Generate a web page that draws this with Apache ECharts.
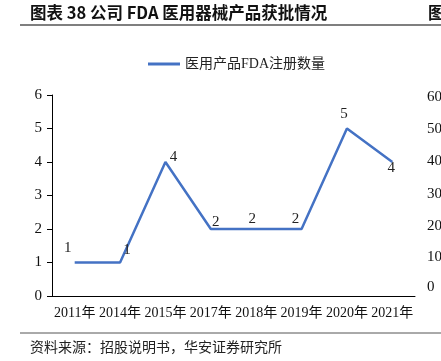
<!DOCTYPE html>
<html><head><meta charset="utf-8">
<script src="https://cdn.jsdelivr.net/npm/echarts@6/dist/echarts.min.js"></script>
<style>html,body{margin:0;padding:0;background:#fff}#c{width:441px;height:361px}</style>
</head><body><div id="c"></div>
<script>
const categories = ['2011年','2014年','2015年','2017年','2018年','2019年','2020年','2021年'];
const values = [1,1,4,2,2,2,5,4];
const yTicks = [0,1,2,3,4,5,6];
const seriesName = '医用产品FDA注册数量';
const titleText = '图表 38 公司 FDA 医用器械产品获批情况';
const sourceText = '资料来源：招股说明书，华安证券研究所';
const neighbourTicks = ['60','50','40','30','20','10','0'];

const serif = "'Liberation Serif','Noto Sans CJK SC',serif";
const labelOffsets = [[-7,-14],[7,-12],[8,-5],[5,-7],[-4,-10],[-6,-10],[-3,-14],[-1,6]];
const dataItems = values.map((v,i)=>({value:v,label:{position:'inside',offset:labelOffsets[i]}}));
const neighbourY = [98,130,162,195,227,258,288];

const chart = echarts.init(document.getElementById('c'),null,{renderer:'canvas'});
chart.setOption({
  animation:false,
  backgroundColor:'#fff',
  textStyle:{fontFamily:serif},
  legend:{top:52,left:143,itemWidth:32,itemHeight:3,icon:'rect',itemGap:5,
    itemStyle:{color:'#4472C4',opacity:1},
    textStyle:{fontSize:14,color:'#222',fontFamily:serif},data:[seriesName]},
  grid:{left:52,right:26,top:95,bottom:65},
  xAxis:{type:'category',data:categories,boundaryGap:true,
    axisLine:{lineStyle:{color:'#000',width:1}},
    axisTick:{inside:true,length:5,lineStyle:{color:'#000'}},
    axisLabel:{color:'#111',fontSize:14,margin:10,interval:0,fontFamily:serif}},
  yAxis:{type:'value',min:yTicks[0],max:yTicks[yTicks.length-1],interval:1,
    splitLine:{show:false},
    axisLine:{show:true,lineStyle:{color:'#000',width:1}},
    axisTick:{show:true,length:5,lineStyle:{color:'#000'}},
    axisLabel:{color:'#111',fontSize:15,margin:10,fontFamily:serif}},
  series:[{name:seriesName,type:'line',data:dataItems,showSymbol:true,symbol:'circle',symbolSize:0.01,
    lineStyle:{color:'#4472C4',width:2.5},itemStyle:{color:'#4472C4'},
    label:{show:true,color:'#222',fontSize:15,fontFamily:serif}}],
  graphic:[
    {type:'text',left:30,top:4,style:{text:titleText,fontSize:16.5,fontWeight:'bold',fill:'#111',fontFamily:"'Noto Sans CJK SC',sans-serif"}},
    {type:'text',left:428,top:4,style:{text:'图',fontSize:16.5,fontWeight:'bold',fill:'#111',fontFamily:"'Noto Sans CJK SC',sans-serif"}},
    {type:'line',shape:{x1:20,y1:25,x2:441,y2:25},style:{stroke:'#555',lineWidth:1.5}},
    {type:'line',shape:{x1:20,y1:333,x2:441,y2:333},style:{stroke:'#555',lineWidth:1}},
    {type:'text',left:30,top:340,style:{text:sourceText,fontSize:14,fill:'#222',fontFamily:"'Noto Sans CJK SC',sans-serif"}}
  ].concat(neighbourTicks.map((t,i)=>({type:'text',x:427,y:neighbourY[i]-8,style:{text:t,fontSize:15,fill:'#111',fontFamily:serif}})))
});
</script></body></html>
